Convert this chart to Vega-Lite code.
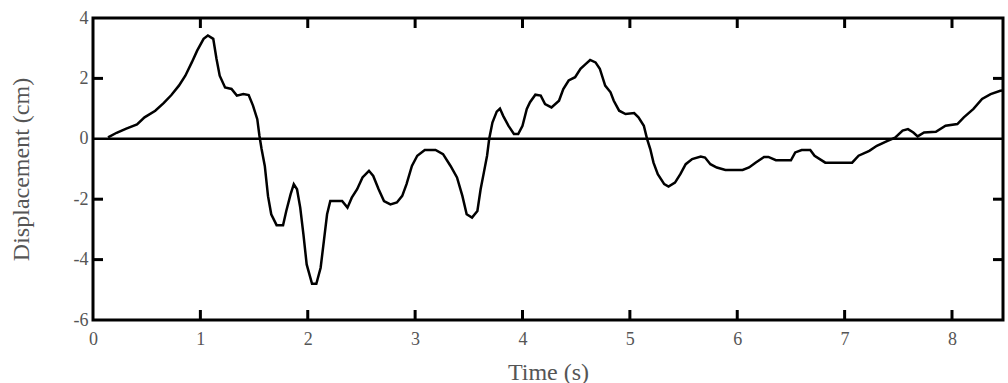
{
  "$schema": "https://vega.github.io/schema/vega-lite/v6.json",
  "width": 910,
  "height": 302,
  "autosize": {"type": "none"},
  "padding": {"left": 93, "top": 18, "right": 5, "bottom": 63},
  "background": "white",
  "config": {
    "view": {"stroke": "black", "strokeWidth": 3},
    "axis": {
      "domain": false,
      "ticks": false,
      "tickSize": 0,
      "grid": false,
      "labelFont": "Liberation Serif",
      "labelFontSize": 18,
      "labelColor": "#555555",
      "titleFont": "Liberation Serif",
      "titleFontSize": 24,
      "titleFontWeight": "normal",
      "titleColor": "#555555",
      "labelFlush": false,
      "labelOverlap": false
    }
  },
  "datasets": {
    "xt": [{"t": 1}, {"t": 2}, {"t": 3}, {"t": 4}, {"t": 5}, {"t": 6}, {"t": 7}, {"t": 8}],
    "yt": [{"v": -4}, {"v": -2}, {"v": 2}],
    "curve": [
      {"t": 0.14, "v": 0.05}, {"t": 0.22, "v": 0.2}, {"t": 0.31, "v": 0.34}, {"t": 0.41, "v": 0.48},
      {"t": 0.48, "v": 0.71}, {"t": 0.58, "v": 0.93}, {"t": 0.66, "v": 1.19}, {"t": 0.73, "v": 1.45},
      {"t": 0.8, "v": 1.76}, {"t": 0.86, "v": 2.09}, {"t": 0.92, "v": 2.53}, {"t": 0.97, "v": 2.92},
      {"t": 1.03, "v": 3.31}, {"t": 1.07, "v": 3.42}, {"t": 1.12, "v": 3.31}, {"t": 1.15, "v": 2.65},
      {"t": 1.18, "v": 2.09}, {"t": 1.23, "v": 1.7}, {"t": 1.29, "v": 1.65}, {"t": 1.34, "v": 1.43},
      {"t": 1.4, "v": 1.48}, {"t": 1.45, "v": 1.45}, {"t": 1.49, "v": 1.1}, {"t": 1.53, "v": 0.65},
      {"t": 1.55, "v": 0.1}, {"t": 1.57, "v": -0.34}, {"t": 1.6, "v": -0.9}, {"t": 1.63, "v": -1.9},
      {"t": 1.66, "v": -2.5}, {"t": 1.71, "v": -2.86}, {"t": 1.77, "v": -2.86}, {"t": 1.8, "v": -2.39},
      {"t": 1.84, "v": -1.84}, {"t": 1.87, "v": -1.5}, {"t": 1.9, "v": -1.67}, {"t": 1.93, "v": -2.28},
      {"t": 1.96, "v": -3.17}, {"t": 1.99, "v": -4.16}, {"t": 2.04, "v": -4.8}, {"t": 2.08, "v": -4.8},
      {"t": 2.12, "v": -4.27}, {"t": 2.15, "v": -3.39}, {"t": 2.18, "v": -2.5}, {"t": 2.21, "v": -2.06},
      {"t": 2.32, "v": -2.06}, {"t": 2.37, "v": -2.28}, {"t": 2.41, "v": -1.95}, {"t": 2.46, "v": -1.67},
      {"t": 2.51, "v": -1.28}, {"t": 2.57, "v": -1.06}, {"t": 2.61, "v": -1.23}, {"t": 2.66, "v": -1.67},
      {"t": 2.71, "v": -2.06}, {"t": 2.77, "v": -2.17}, {"t": 2.83, "v": -2.11}, {"t": 2.88, "v": -1.89},
      {"t": 2.92, "v": -1.5}, {"t": 2.97, "v": -0.9}, {"t": 3.02, "v": -0.56}, {"t": 3.09, "v": -0.37},
      {"t": 3.19, "v": -0.37}, {"t": 3.26, "v": -0.51}, {"t": 3.33, "v": -0.9}, {"t": 3.39, "v": -1.28},
      {"t": 3.44, "v": -1.89}, {"t": 3.48, "v": -2.5}, {"t": 3.53, "v": -2.61}, {"t": 3.58, "v": -2.39},
      {"t": 3.61, "v": -1.67}, {"t": 3.64, "v": -1.12}, {"t": 3.67, "v": -0.56}, {"t": 3.69, "v": 0},
      {"t": 3.72, "v": 0.54}, {"t": 3.76, "v": 0.9}, {"t": 3.79, "v": 1.0}, {"t": 3.82, "v": 0.76},
      {"t": 3.87, "v": 0.43}, {"t": 3.92, "v": 0.16}, {"t": 3.96, "v": 0.16}, {"t": 4.0, "v": 0.43},
      {"t": 4.04, "v": 0.99}, {"t": 4.07, "v": 1.21}, {"t": 4.12, "v": 1.46}, {"t": 4.17, "v": 1.43},
      {"t": 4.21, "v": 1.15}, {"t": 4.27, "v": 1.04}, {"t": 4.34, "v": 1.26}, {"t": 4.38, "v": 1.65},
      {"t": 4.43, "v": 1.93}, {"t": 4.49, "v": 2.04}, {"t": 4.54, "v": 2.32}, {"t": 4.59, "v": 2.48},
      {"t": 4.63, "v": 2.61}, {"t": 4.68, "v": 2.53}, {"t": 4.72, "v": 2.32}, {"t": 4.77, "v": 1.76},
      {"t": 4.82, "v": 1.54}, {"t": 4.85, "v": 1.26}, {"t": 4.9, "v": 0.93}, {"t": 4.96, "v": 0.82},
      {"t": 5.04, "v": 0.85}, {"t": 5.08, "v": 0.71}, {"t": 5.13, "v": 0.43}, {"t": 5.16, "v": 0},
      {"t": 5.19, "v": -0.34}, {"t": 5.22, "v": -0.79}, {"t": 5.26, "v": -1.17}, {"t": 5.32, "v": -1.5},
      {"t": 5.36, "v": -1.58}, {"t": 5.42, "v": -1.45}, {"t": 5.47, "v": -1.17}, {"t": 5.52, "v": -0.84},
      {"t": 5.58, "v": -0.67}, {"t": 5.66, "v": -0.59}, {"t": 5.7, "v": -0.62}, {"t": 5.75, "v": -0.84},
      {"t": 5.81, "v": -0.95}, {"t": 5.89, "v": -1.03}, {"t": 6.05, "v": -1.03}, {"t": 6.11, "v": -0.95},
      {"t": 6.17, "v": -0.79}, {"t": 6.25, "v": -0.6}, {"t": 6.29, "v": -0.6}, {"t": 6.36, "v": -0.71},
      {"t": 6.5, "v": -0.71}, {"t": 6.54, "v": -0.45}, {"t": 6.6, "v": -0.37}, {"t": 6.68, "v": -0.37},
      {"t": 6.72, "v": -0.56}, {"t": 6.82, "v": -0.79}, {"t": 7.07, "v": -0.79}, {"t": 7.13, "v": -0.56},
      {"t": 7.23, "v": -0.4}, {"t": 7.3, "v": -0.23}, {"t": 7.4, "v": -0.07}, {"t": 7.47, "v": 0.04},
      {"t": 7.54, "v": 0.27}, {"t": 7.59, "v": 0.32}, {"t": 7.64, "v": 0.21}, {"t": 7.68, "v": 0.08},
      {"t": 7.74, "v": 0.21}, {"t": 7.85, "v": 0.23}, {"t": 7.94, "v": 0.43}, {"t": 8.05, "v": 0.49},
      {"t": 8.11, "v": 0.71}, {"t": 8.2, "v": 0.99}, {"t": 8.28, "v": 1.32}, {"t": 8.36, "v": 1.48},
      {"t": 8.45, "v": 1.59}, {"t": 8.475, "v": 1.6}
    ]
  },
  "layer": [
    {
      "data": {"name": "curve"},
      "mark": {"type": "line", "color": "black", "strokeWidth": 2.5, "clip": true},
      "encoding": {
        "x": {
          "field": "t", "type": "quantitative",
          "scale": {"domain": [0, 8.475], "nice": false, "zero": false},
          "axis": {"orient": "bottom", "values": [0, 1, 2, 3, 4, 5, 6, 7, 8], "title": "Time (s)",
                   "labelExpr": "'' + datum.value", "labelPadding": 10,
                   "titleX": 455, "titleY": 52, "titleBaseline": "middle", "titleAlign": "center"}
        },
        "y": {
          "field": "v", "type": "quantitative",
          "scale": {"domain": [-6, 4], "nice": false, "zero": false},
          "axis": {"orient": "left", "values": [-6, -4, -2, 0, 2, 4], "title": "Displacement (cm)",
                   "labelExpr": "'' + datum.value", "labelPadding": 5,
                   "titleX": -72, "titleY": 151, "titleAngle": -90, "titleBaseline": "middle", "titleAlign": "center"}
        }
      }
    },
    {
      "data": {"values": [{"z": 0}]},
      "mark": {"type": "rule", "color": "black", "strokeWidth": 2.5},
      "encoding": {
        "y": {"field": "z", "type": "quantitative"}
      }
    },
    {
      "data": {"name": "xt"},
      "mark": {"type": "tick", "orient": "vertical", "size": 20, "thickness": 3, "color": "black", "opacity": 1, "clip": true},
      "encoding": {
        "x": {"field": "t", "type": "quantitative"},
        "y": {"datum": -6, "type": "quantitative"}
      }
    },
    {
      "data": {"name": "xt"},
      "mark": {"type": "tick", "orient": "vertical", "size": 20, "thickness": 3, "color": "black", "opacity": 1, "clip": true},
      "encoding": {
        "x": {"field": "t", "type": "quantitative"},
        "y": {"datum": 4, "type": "quantitative"}
      }
    },
    {
      "data": {"name": "yt"},
      "mark": {"type": "tick", "orient": "horizontal", "size": 20, "thickness": 3, "color": "black", "opacity": 1, "clip": true},
      "encoding": {
        "y": {"field": "v", "type": "quantitative"},
        "x": {"datum": 0, "type": "quantitative"}
      }
    },
    {
      "data": {"name": "yt"},
      "mark": {"type": "tick", "orient": "horizontal", "size": 20, "thickness": 3, "color": "black", "opacity": 1, "clip": true},
      "encoding": {
        "y": {"field": "v", "type": "quantitative"},
        "x": {"datum": 8.475, "type": "quantitative"}
      }
    }
  ]
}
